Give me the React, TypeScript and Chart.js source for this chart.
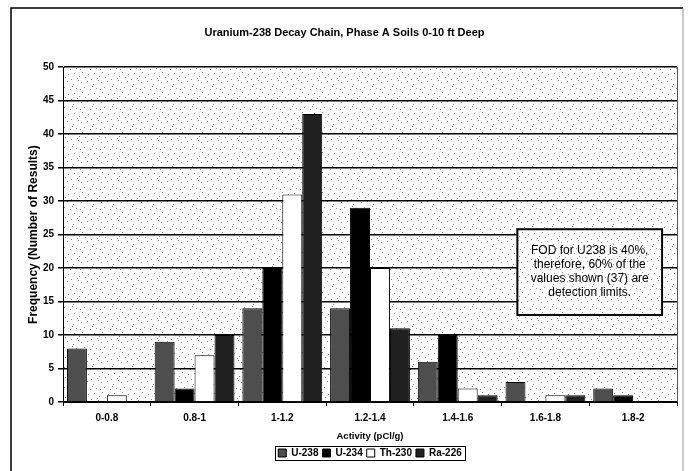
import React, { useEffect, useRef } from "react";
import { Chart, registerables } from "chart.js";

Chart.register(...registerables);

const categories = ["0-0.8", "0.8-1", "1-1.2", "1.2-1.4", "1.4-1.6", "1.6-1.8", "1.8-2"];
const u238 = [8, 9, 14, 14, 6, 3, 2];
const u234 = [0, 2, 20, 29, 10, 0, 1];
const th230 = [1, 7, 31, 20, 2, 1, 0];
const ra226 = [0, 10, 43, 11, 1, 1, 0];
const seriesNames = ["U-238", "U-234", "Th-230", "Ra-226"];
const chartTitle = "Uranium-238 Decay Chain, Phase A Soils 0-10 ft Deep";
const yTitle = "Frequency (Number of Results)";
const xTitle = "Activity (pCl/g)";
const noteLines = ["FOD for U238 is 40%,", "therefore, 60% of the", "values shown (37) are", "detection limits."];
// note box extent in data units (category index, frequency)
const noteXRange = [4.68, 6.33];
const noteYRange = [25.8, 13.0];

const FONT = "'Liberation Sans', Arial, sans-serif";

const dots: number[][] = [
  [1, 2], [7, 1], [13, 4], [18, 0], [4, 7], [10, 9], [16, 8], [2, 12], [8, 14], [14, 13],
  [19, 16], [5, 17], [11, 19], [17, 18], [0, 9], [12, 6],
];

export default function App() {
  const ref = useRef<HTMLCanvasElement>(null);
  useEffect(() => {
    const canvas = ref.current!;
    const tile = document.createElement("canvas");
    tile.width = 20;
    tile.height = 20;
    const tctx = tile.getContext("2d")!;
    tctx.fillStyle = "#ffffff";
    tctx.fillRect(0, 0, 20, 20);
    tctx.fillStyle = "#8a8a8a";
    dots.forEach(([x, y]) => tctx.fillRect(x, y, 1, 1));
    const pattern = canvas.getContext("2d")!.createPattern(tile, "repeat")!;

    const decor = {
      id: "decor",
      beforeDraw(chart: any) {
        const { ctx, chartArea: a } = chart;
        ctx.save();
        ctx.fillStyle = "#ffffff";
        ctx.fillRect(0, 0, chart.width, chart.height);
        ctx.fillStyle = pattern;
        ctx.fillRect(a.left, a.top, a.right - a.left, a.bottom - a.top);
        ctx.strokeStyle = "#000";
        ctx.lineWidth = 1.5;
        ctx.beginPath();
        ctx.moveTo(11, chart.height);
        ctx.lineTo(11, 8);
        ctx.lineTo(683, 8);
        ctx.stroke();
        ctx.strokeStyle = "#999";
        ctx.lineWidth = 1;
        ctx.beginPath();
        ctx.moveTo(683, 8);
        ctx.lineTo(683, chart.height);
        ctx.stroke();
        ctx.restore();
      },
      afterDraw(chart: any) {
        const { ctx, chartArea: a } = chart;
        const xs = chart.scales.x;
        const ys = chart.scales.y;
        ctx.save();
        // plot border
        ctx.strokeStyle = "#555";
        ctx.lineWidth = 1;
        ctx.beginPath();
        ctx.moveTo(a.right + 0.5, a.top);
        ctx.lineTo(a.right + 0.5, a.bottom);
        ctx.stroke();
        // legend border
        const lg = chart.legend;
        if (lg && lg.legendHitBoxes && lg.legendHitBoxes.length) {
          const hb = lg.legendHitBoxes;
          let l = Infinity, r = -Infinity, t = Infinity, b = -Infinity;
          hb.forEach((h: any) => {
            l = Math.min(l, h.left);
            r = Math.max(r, h.left + h.width);
            t = Math.min(t, h.top);
            b = Math.max(b, h.top + h.height);
          });
          ctx.strokeStyle = "#000";
          ctx.lineWidth = 1;
          ctx.strokeRect(Math.round(l - 3) + 0.5, Math.round(t - 2) + 0.5, Math.round(r - l + 6), Math.round(b - t + 4));
        }
        // note box
        const x0 = xs.getPixelForValue(noteXRange[0]);
        const x1 = xs.getPixelForValue(noteXRange[1]);
        const y0 = ys.getPixelForValue(noteYRange[0]);
        const y1 = ys.getPixelForValue(noteYRange[1]);
        ctx.fillStyle = pattern;
        ctx.fillRect(x0, y0, x1 - x0, y1 - y0);
        ctx.strokeStyle = "#000";
        ctx.lineWidth = 2;
        ctx.strokeRect(x0, y0, x1 - x0, y1 - y0);
        ctx.fillStyle = "#000";
        ctx.font = `12px ${FONT}`;
        ctx.textAlign = "center";
        ctx.textBaseline = "middle";
        const cx = (x0 + x1) / 2;
        const cy = (y0 + y1) / 2;
        const lh = 14;
        noteLines.forEach((s, i) => {
          ctx.fillText(s, cx, cy + (i - (noteLines.length - 1) / 2) * lh);
        });
        ctx.restore();
      },
    };

    const chart = new Chart(canvas, {
      type: "bar",
      data: {
        labels: categories,
        datasets: [
          { label: seriesNames[0], data: u238, backgroundColor: "#4e4e4e", borderColor: "#000", borderWidth: 1 },
          { label: seriesNames[1], data: u234, backgroundColor: "#000000", borderColor: "#000", borderWidth: 1 },
          { label: seriesNames[2], data: th230, backgroundColor: "#ffffff", borderColor: "#000", borderWidth: 1 },
          { label: seriesNames[3], data: ra226, backgroundColor: "#202020", borderColor: "#000", borderWidth: 1 },
        ],
      },
      options: {
        responsive: false,
        animation: false,
        devicePixelRatio: 1,
        layout: { padding: { left: 12, right: 12, top: 8, bottom: 3 } },
        datasets: { bar: { categoryPercentage: 0.91, barPercentage: 1.0 } },
        plugins: {
          tooltip: { enabled: false },
          title: {
            display: true,
            text: chartTitle,
            color: "#000",
            font: { family: FONT, size: 11, weight: "bold" },
            padding: { top: 18, bottom: 28 },
          },
          legend: {
            position: "bottom",
            fullSize: false,
            labels: {
              boxWidth: 8,
              boxHeight: 8,
              padding: 4,
              color: "#000",
              font: { family: FONT, size: 10, weight: "bold" },
            },
          },
        },
        scales: {
          x: {
            offset: true,
            grid: { display: true, drawOnChartArea: false, drawTicks: true, tickLength: 4, offset: true, color: "#000" },
            border: { display: true, color: "#000", width: 1 },
            ticks: { color: "#000", padding: 6, font: { family: FONT, size: 10, weight: "bold" }, maxRotation: 0 },
            title: {
              display: true,
              text: xTitle,
              color: "#000",
              font: { family: FONT, size: 9.5, weight: "bold" },
              padding: { top: 4, bottom: 2 },
            },
            afterFit: (s: any) => {
              s.height = 42;
            },
          },
          y: {
            min: 0,
            max: 50,
            ticks: { stepSize: 5, color: "#000", padding: 4, font: { family: FONT, size: 10, weight: "bold" } },
            grid: { color: "#000", lineWidth: 1.5, tickLength: 5, drawTicks: true },
            border: { display: true, color: "#000", width: 1 },
            title: {
              display: true,
              text: yTitle,
              color: "#000",
              font: { family: FONT, size: 12, weight: "bold" },
              padding: { top: 14, bottom: 0 },
            },
            afterFit: (s: any) => {
              s.width = 51;
            },
          },
        },
      },
      plugins: [decor],
    } as any);
    return () => chart.destroy();
  }, []);
  return (
    <div style={{ position: "fixed", left: 0, top: 0, width: 689, height: 471, background: "#fff" }}>
      <canvas ref={ref} width={689} height={471} style={{ display: "block" }} />
    </div>
  );
}
